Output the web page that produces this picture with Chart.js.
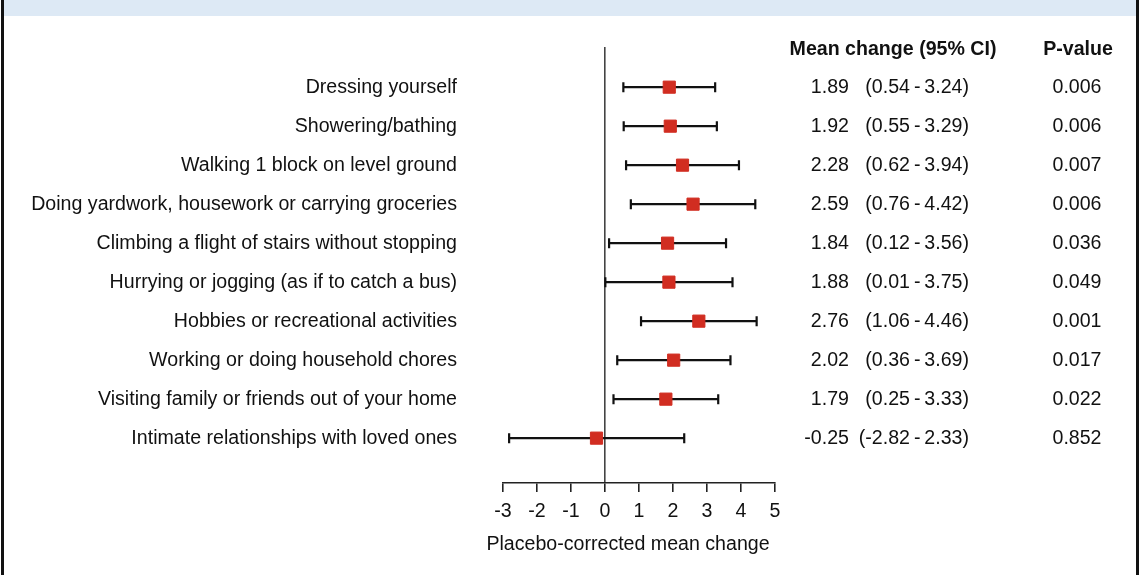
<!DOCTYPE html>
<html>
<head>
<meta charset="utf-8">
<script src="https://cdn.jsdelivr.net/npm/chart.js@4/dist/chart.umd.min.js"></script>
<style>
  html, body { margin: 0; padding: 0; background: #fff; }
  #wrap { position: relative; width: 1142px; height: 575px; }
</style>
</head>
<body>
<div id="wrap"><canvas id="forest" width="1142" height="575"></canvas></div>
<script>
// forest plot data
var labels = [
  'Dressing yourself',
  'Showering/bathing',
  'Walking 1 block on level ground',
  'Doing yardwork, housework or carrying groceries',
  'Climbing a flight of stairs without stopping',
  'Hurrying or jogging (as if to catch a bus)',
  'Hobbies or recreational activities',
  'Working or doing household chores',
  'Visiting family or friends out of your home',
  'Intimate relationships with loved ones'
];
var means = [1.89, 1.92, 2.28, 2.59, 1.84, 1.88, 2.76, 2.02, 1.79, -0.25];
var lows  = [0.54, 0.55, 0.62, 0.76, 0.12, 0.01, 1.06, 0.36, 0.25, -2.82];
var highs = [3.24, 3.29, 3.94, 4.42, 3.56, 3.75, 4.46, 3.69, 3.33, 2.33];
var pvals = ['0.006', '0.006', '0.007', '0.006', '0.036', '0.049', '0.001', '0.017', '0.022', '0.852'];
var xTicks = [-3, -2, -1, 0, 1, 2, 3, 4, 5];

var FONT = '"Liberation Sans", Arial, Helvetica, sans-serif';
var FS = 19.6;
var TXT = '#111';

function fmt(v) { return v.toFixed(2); }

// frame + blue band + error bars + text columns
var forestPlugin = {
  id: 'forest',
  beforeDraw: function (chart) {
    var c = chart.ctx;
    c.save();
    c.fillStyle = '#fff';
    c.fillRect(0, 0, chart.width, chart.height);
    c.fillStyle = '#dde9f5';
    c.fillRect(4, 0, 1132, 16);
    c.fillStyle = '#111';
    c.fillRect(1, 0, 3, chart.height);
    c.fillRect(1136, 0, 3, chart.height);
    c.restore();
  },
  beforeDatasetsDraw: function (chart) {
    var c = chart.ctx, xs = chart.scales.x, ys = chart.scales.y;
    c.save();
    c.strokeStyle = '#111';
    c.lineWidth = 2.2;
    for (var i = 0; i < means.length; i++) {
      var y = ys.getPixelForValue(i);
      var x1 = xs.getPixelForValue(lows[i]);
      var x2 = xs.getPixelForValue(highs[i]);
      c.beginPath();
      c.moveTo(x1, y); c.lineTo(x2, y);
      c.moveTo(x1, y - 5); c.lineTo(x1, y + 5);
      c.moveTo(x2, y - 5); c.lineTo(x2, y + 5);
      c.stroke();
    }
    c.restore();
  },
  afterDraw: function (chart) {
    var c = chart.ctx, ys = chart.scales.y, area = chart.chartArea;
    c.save();
    c.fillStyle = TXT;
    c.textBaseline = 'middle';
    c.font = 'bold ' + FS + 'px ' + FONT;
    c.textAlign = 'center';
    c.fillText('Mean change (95% CI)', 893, 50);
    c.fillText('P-value', 1078, 50);
    c.font = FS + 'px ' + FONT;
    for (var i = 0; i < means.length; i++) {
      var y = ys.getPixelForValue(i);
      c.textAlign = 'right';
      c.fillText(fmt(means[i]), 849, y);
      c.fillText('(' + fmt(lows[i]) + '\u2009-\u2009' + fmt(highs[i]) + ')', 969, y);
      c.textAlign = 'center';
      c.fillText(pvals[i], 1077, y);
    }
    // axis title
    c.fillText('Placebo-corrected mean change', (area.left + area.right) / 2 - 11, 545);
    c.restore();
  }
};

new Chart(document.getElementById('forest'), {
  type: 'scatter',
  data: {
    datasets: [{
      data: means.map(function (m, i) { return { x: m, y: i }; }),
      pointStyle: 'rect',
      pointRadius: 8.6,
      pointHoverRadius: 8.6,
      backgroundColor: '#d12d21',
      borderColor: '#d12d21',
      borderWidth: 1
    }]
  },
  options: {
    responsive: false,
    animation: false,
    events: [],
    layout: { padding: { top: 47, right: 367, bottom: 0, left: 0 } },
    plugins: { legend: { display: false }, tooltip: { enabled: false } },
    scales: {
      x: {
        type: 'linear',
        min: -3,
        max: 5,
        afterBuildTicks: function (s) { s.ticks = xTicks.map(function (v) { return { value: v }; }); },
        afterFit: function (s) { s.height = 92; s.paddingLeft = 0; s.paddingRight = 0; },
        ticks: { color: TXT, font: { family: FONT, size: FS }, padding: 8, maxRotation: 0 },
        grid: {
          color: function (ctx) { return ctx.tick && ctx.tick.value === 0 ? '#444' : 'rgba(0,0,0,0)'; },
          lineWidth: 1.6,
          tickColor: '#222',
          tickLength: 9,
          tickWidth: 1.6
        },
        border: { display: true, color: '#222', width: 1.6 }
      },
      y: {
        type: 'linear',
        reverse: true,
        min: -1.03,
        max: 10.15,
        afterBuildTicks: function (s) { s.ticks = labels.map(function (l, i) { return { value: i }; }); },
        afterFit: function (s) { s.width = 503; s.paddingTop = 0; s.paddingBottom = 0; },
        ticks: {
          autoSkip: false,
          color: TXT,
          font: { family: FONT, size: FS },
          padding: 46,
          callback: function (v) { return labels[v]; }
        },
        grid: { display: false, drawTicks: false },
        border: { display: false }
      }
    }
  },
  plugins: [forestPlugin]
});
</script>
</body>
</html>
